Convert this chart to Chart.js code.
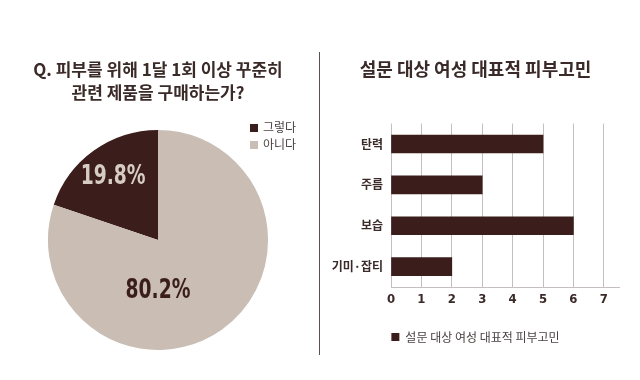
<!DOCTYPE html>
<html>
<head>
<meta charset="utf-8">
<script src="https://cdn.jsdelivr.net/npm/chart.js@4/dist/chart.umd.min.js"></script>
<style>
  html, body { margin: 0; padding: 0; background: #ffffff; }
  #wrap { position: relative; width: 640px; height: 380px; overflow: hidden; background: #fff; }
  #pieCanvas { position: absolute; left: 0; top: 0; }
  #barCanvas { position: absolute; left: 322px; top: 0; }
  #divider { position: absolute; left: 319px; top: 52px; width: 1px; height: 303px; background: #5a5050; }
  #pieLegend { position: absolute; left: 250px; top: 118px; margin: 0; padding: 0; list-style: none;
    font-family: 'Noto Sans CJK KR', sans-serif; font-size: 12px; color: #4a4242; }
  #pieLegend li { height: 17px; line-height: 17px; white-space: nowrap; }
  #pieLegend span.box { display: inline-block; width: 8px; height: 8px; margin-right: 5px; vertical-align: 0px; }
</style>
</head>
<body>
<div id="wrap">
  <canvas id="pieCanvas" width="318" height="380"></canvas>
  <div id="divider"></div>
  <ul id="pieLegend"></ul>
  <canvas id="barCanvas" width="318" height="380"></canvas>
</div>
<script>
// ---- data ----
const pieTitle = ['Q. 피부를 위해 1달 1회 이상 꾸준히', '관련 제품을 구매하는가?'];
const pieLabels = ['그렇다', '아니다'];
const pieValues = [19.8, 80.2];

const barTitle = '설문 대상 여성 대표적 피부고민';
const barSeriesName = '설문 대상 여성 대표적 피부고민';
const barLabels = ['탄력', '주름', '보습', '기미·잡티'];
const barValues = [5, 3, 6, 2];
const xTickValues = [0, 1, 2, 3, 4, 5, 6, 7];

// ---- styles ----
const DARK = '#3b1e1b';
const LIGHT = '#c9bdb4';
const TEXT = '#3a2a28';
const GRID = '#c4bebe';
const KR = "'Noto Sans CJK KR', sans-serif";
const NUM = "'DejaVu Sans Condensed', 'Noto Sans CJK KR', sans-serif";
const pieColors = [DARK, LIGHT];
const pieLabelColors = ['#d6ccc5', DARK];

// HTML legend for pie (built from data arrays)
const legendEl = document.getElementById('pieLegend');
pieLabels.forEach((l, i) => {
  const li = document.createElement('li');
  const b = document.createElement('span');
  b.className = 'box';
  b.style.background = pieColors[i];
  li.appendChild(b);
  li.appendChild(document.createTextNode(l));
  legendEl.appendChild(li);
});

const total = pieValues.reduce((a, b) => a + b, 0);

const pieLabelPlugin = {
  id: 'pieLabels',
  afterDatasetsDraw(chart) {
    const ctx = chart.ctx;
    const meta = chart.getDatasetMeta(0);
    meta.data.forEach((arc, i) => {
      const p = arc.getProps(['x', 'y', 'startAngle', 'endAngle', 'outerRadius'], true);
      const span = p.endAngle - p.startAngle;
      let a, r;
      if (span < Math.PI) { a = (p.startAngle + p.endAngle) / 2; r = p.outerRadius * 0.7; }
      else { a = Math.PI / 2; r = p.outerRadius * 0.47; }
      const x = p.x + Math.cos(a) * r;
      const y = p.y + Math.sin(a) * r;
      ctx.save();
      ctx.translate(x, y);
      ctx.scale(0.8, 1);
      ctx.font = 'bold 26px ' + NUM;
      ctx.textAlign = 'center';
      ctx.textBaseline = 'middle';
      ctx.fillStyle = pieLabelColors[i];
      ctx.fillText(pieValues[i].toFixed(1) + '%', 0, 0);
      ctx.restore();
    });
  }
};

new Chart(document.getElementById('pieCanvas'), {
  type: 'pie',
  data: {
    labels: pieLabels,
    datasets: [{ data: pieValues, backgroundColor: pieColors, borderWidth: 0 }]
  },
  options: {
    responsive: false,
    animation: false,
    rotation: -(pieValues[0] / total) * 360,
    layout: { padding: { left: 30, right: 32, top: 0, bottom: 30 } },
    plugins: {
      legend: { display: false },
      tooltip: { enabled: false },
      title: {
        display: true,
        text: pieTitle,
        color: TEXT,
        font: { family: KR, size: 17, weight: 'bold', lineHeight: 1.35 },
        padding: { top: 58, bottom: 26 }
      }
    }
  },
  plugins: [pieLabelPlugin]
});

new Chart(document.getElementById('barCanvas'), {
  type: 'bar',
  data: {
    labels: barLabels,
    datasets: [{
      label: barSeriesName,
      data: barValues,
      backgroundColor: DARK,
      borderWidth: 0,
      barThickness: 18
    }]
  },
  options: {
    responsive: false,
    animation: false,
    indexAxis: 'y',
    layout: { padding: { left: 10, right: 21, top: 0, bottom: 27 } },
    scales: {
      x: {
        min: 0,
        max: 7.5,
        afterBuildTicks(scale) { scale.ticks = xTickValues.map(v => ({ value: v })); },
        afterFit(scale) { scale.height = 34; },
        ticks: { color: TEXT, padding: 5, font: { family: NUM, size: 13, weight: 'bold' } },
        grid: { color: GRID, drawTicks: false, lineWidth: 1 },
        border: { display: true, color: GRID, width: 1 }
      },
      y: {
        afterFit(scale) { scale.width = 59; },
        ticks: { color: TEXT, padding: 8, font: { family: KR, size: 12, weight: 'bold' } },
        grid: { display: false, drawTicks: false },
        border: { display: false }
      }
    },
    plugins: {
      tooltip: { enabled: false },
      title: {
        display: true,
        text: barTitle,
        color: TEXT,
        font: { family: KR, size: 18, weight: 'bold', lineHeight: 1.2 },
        padding: { top: 58, bottom: 44 }
      },
      legend: {
        position: 'bottom',
        labels: {
          color: '#4a4242',
          boxWidth: 8,
          boxHeight: 8,
          padding: 10,
          font: { family: KR, size: 12 }
        }
      }
    }
  }
});
</script>
</body>
</html>
